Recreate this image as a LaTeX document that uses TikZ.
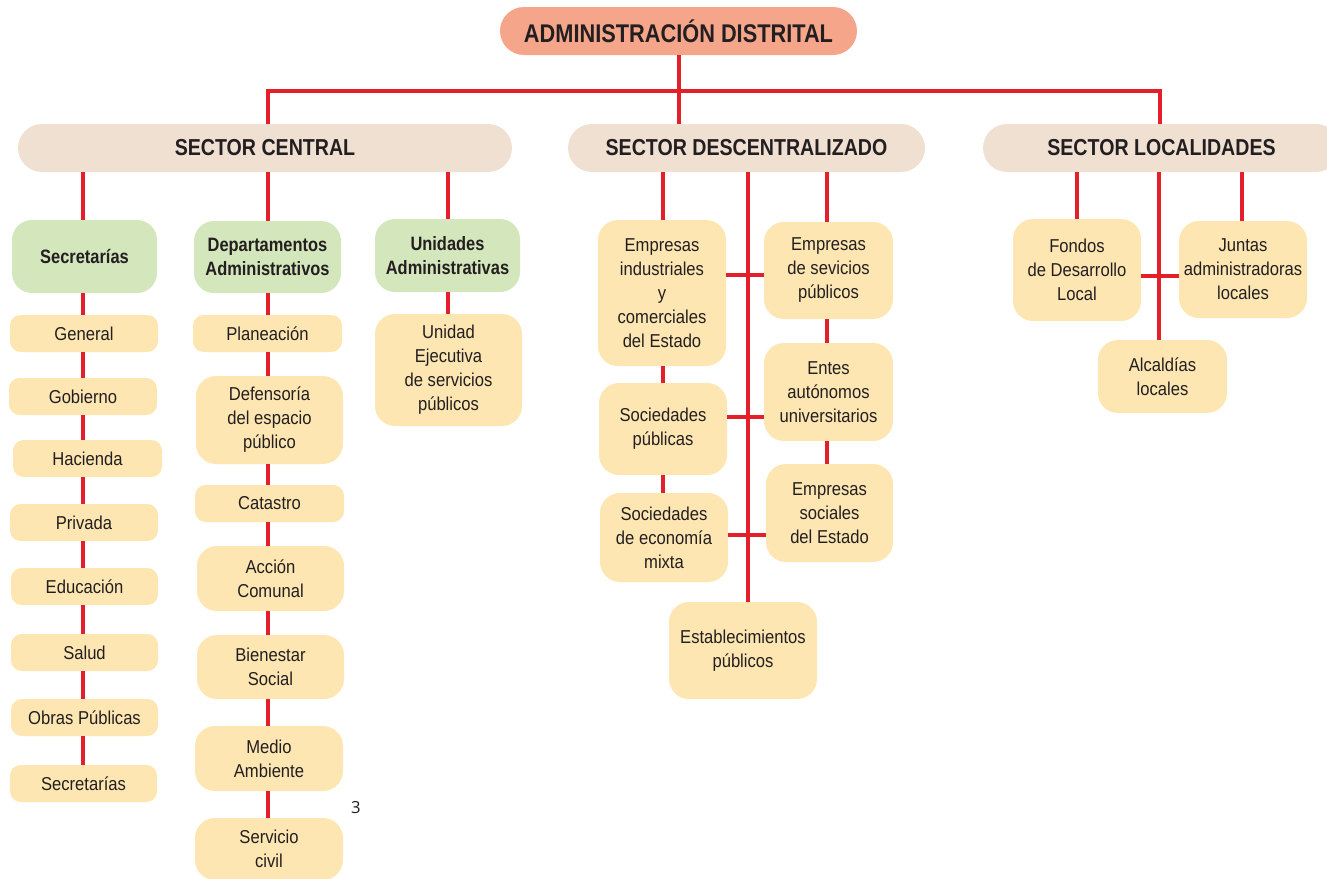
\documentclass[tikz,border=0pt]{standalone}
\usepackage{fontspec}
\setmainfont[FakeStretch=0.89]{Liberation Sans}
\newfontfamily\hdfont[FakeStretch=0.85]{Liberation Sans}
\newfontfamily\notefont{Open Sans}
\definecolor{ink}{HTML}{231F20}
\definecolor{linered}{HTML}{E3202A}
\definecolor{salmon}{HTML}{F5A58A}
\definecolor{beige}{HTML}{EFE0D2}
\definecolor{paleg}{HTML}{D4E6BB}
\definecolor{paley}{HTML}{FDE6B2}
\tikzset{
  base/.style={draw=none, inner sep=0pt, align=center, text=ink},
  titlebox/.style={base, fill=salmon, rounded corners=18pt, font=\fontsize{19.2}{22}\selectfont\hdfont\bfseries},
  sectorbox/.style={base, fill=beige, rounded corners=18pt, font=\fontsize{17.3}{20}\selectfont\hdfont\bfseries},
  groupbox/.style={base, fill=paleg, rounded corners=15pt, font=\fontsize{14.5}{18.5}\selectfont\hdfont\bfseries},
  smallbox/.style={base, fill=paley, rounded corners=8pt, font=\fontsize{14}{18}\selectfont},
  bigbox/.style={base, fill=paley, rounded corners=15pt, font=\fontsize{14}{18}\selectfont},
  link/.style={draw=linered, line width=2.3pt}
}
\newcommand\bx[7]{\node[#6, minimum width={(#4-#2)*0.75pt}, minimum height={(#5-#3)*0.75pt}] (#1) at ({(#2+#4)/2},{(#3+#5)/2}) {#7};}
\begin{document}
\begin{tikzpicture}[x=0.75pt,y=-0.75pt]
\useasboundingbox (0,0) rectangle (1327,878);
% title and sectors
\bx{adm}{500}{7}{857}{55}{titlebox}{ADMINISTRACIÓN DISTRITAL}
\bx{sc}{18}{124}{512}{172}{sectorbox}{SECTOR CENTRAL}
\bx{sd}{568}{124}{925}{172}{sectorbox}{SECTOR DESCENTRALIZADO}
\bx{sl}{983}{124}{1340}{172}{sectorbox}{SECTOR LOCALIDADES}
% sector central groups
\bx{gsec}{12}{220}{157}{293}{groupbox}{Secretarías}
\bx{gdep}{194}{221}{341}{293}{groupbox}{Departamentos\\Administrativos}
\bx{guni}{375}{219}{520}{292}{groupbox}{Unidades\\Administrativas}
% secretarias column
\bx{gen}{10}{315}{158}{352}{smallbox}{General}
\bx{gob}{9}{378}{157}{415}{smallbox}{Gobierno}
\bx{hac}{13}{440}{162}{477}{smallbox}{Hacienda}
\bx{pri}{10}{504}{158}{541}{smallbox}{Privada}
\bx{edu}{11}{568}{158}{605}{smallbox}{Educación}
\bx{sal}{11}{634}{158}{671}{smallbox}{Salud}
\bx{obr}{11}{699}{158}{736}{smallbox}{Obras Públicas}
\bx{sec}{10}{765}{157}{802}{smallbox}{Secretarías}
% departamentos column
\bx{pla}{193}{315}{342}{352}{smallbox}{Planeación}
\bx{def}{196}{376}{343}{464}{bigbox}{Defensoría\\del espacio\\público}
\bx{cat}{195}{485}{344}{522}{smallbox}{Catastro}
\bx{acc}{197}{546}{344}{611}{bigbox}{Acción\\Comunal}
\bx{bie}{197}{635}{344}{699}{bigbox}{Bienestar\\Social}
\bx{med}{195}{726}{343}{791}{bigbox}{Medio\\Ambiente}
\bx{ser}{195}{818}{343}{880}{bigbox}{Servicio\\civil}
% unidades
\bx{uej}{375}{314}{522}{426}{bigbox}{Unidad\\Ejecutiva\\de servicios\\públicos}
% descentralizado
\bx{ei}{598}{220}{726}{366}{bigbox}{Empresas\\industriales\\y\\comerciales\\del Estado}
\bx{es}{764}{222}{893}{319}{bigbox}{Empresas\\de sevicios\\públicos}
\bx{en}{764}{343}{893}{441}{bigbox}{Entes\\autónomos\\universitarios}
\bx{sp}{599}{383}{727}{475}{bigbox}{Sociedades\\públicas}
\bx{ss}{766}{464}{893}{562}{bigbox}{Empresas\\sociales\\del Estado}
\bx{sm}{600}{493}{728}{582}{bigbox}{Sociedades\\de economía\\mixta}
\bx{est}{669}{602}{817}{699}{bigbox}{Establecimientos\\públicos}
% localidades
\bx{fo}{1013}{219}{1141}{321}{bigbox}{Fondos\\de Desarrollo\\Local}
\bx{ju}{1179}{221}{1307}{318}{bigbox}{Juntas\\administradoras\\locales}
\bx{al}{1098}{340}{1227}{413}{bigbox}{Alcaldías\\locales}
% page number
\node[text=ink, font=\notefont\fontsize{12.5}{14}\selectfont] (pg) at (356,808) {3};
% reference coordinates
\coordinate (hub) at (679,91);
\coordinate (xa) at (268,91);
\coordinate (xb) at (1160,91);
\coordinate (c1) at (83,0);
\coordinate (c2) at (268,0);
\coordinate (c3) at (448,0);
\coordinate (d1) at (663,0);
\coordinate (d2) at (748,0);
\coordinate (d3) at (827,0);
\coordinate (l1) at (1077,0);
\coordinate (l2) at (1159,0);
\coordinate (l3) at (1242,0);
\coordinate (h1) at (0,275);
\coordinate (h2) at (0,417);
\coordinate (h3) at (0,535);
\coordinate (h4) at (0,276);
% top connectors
\draw[link] (hub |- adm.south) -- (hub);
\draw[link] (xa |- sc.north) -- (xa) -- (xb) -- (xb |- sl.north);
\draw[link] (hub) -- (hub |- sd.north);
% sector central
\draw[link] (c1 |- sc.south) -- (c1 |- gsec.north);
\draw[link] (c2 |- sc.south) -- (c2 |- gdep.north);
\draw[link] (c3 |- sc.south) -- (c3 |- guni.north);
\foreach \a/\b in {gsec/gen, gen/gob, gob/hac, hac/pri, pri/edu, edu/sal, sal/obr, obr/sec}
  \draw[link] (c1 |- \a.south) -- (c1 |- \b.north);
\foreach \a/\b in {gdep/pla, pla/def, def/cat, cat/acc, acc/bie, bie/med, med/ser}
  \draw[link] (c2 |- \a.south) -- (c2 |- \b.north);
\draw[link] (c3 |- guni.south) -- (c3 |- uej.north);
% descentralizado
\draw[link] (d1 |- sd.south) -- (d1 |- ei.north);
\draw[link] (d1 |- ei.south) -- (d1 |- sp.north);
\draw[link] (d1 |- sp.south) -- (d1 |- sm.north);
\draw[link] (d2 |- sd.south) -- (d2 |- est.north);
\draw[link] (d3 |- sd.south) -- (d3 |- es.north);
\draw[link] (d3 |- es.south) -- (d3 |- en.north);
\draw[link] (d3 |- en.south) -- (d3 |- ss.north);
\draw[link] (ei.east |- h1) -- (es.west |- h1);
\draw[link] (sp.east |- h2) -- (en.west |- h2);
\draw[link] (sm.east |- h3) -- (ss.west |- h3);
% localidades
\draw[link] (l1 |- sl.south) -- (l1 |- fo.north);
\draw[link] (l2 |- sl.south) -- (l2 |- al.north);
\draw[link] (l3 |- sl.south) -- (l3 |- ju.north);
\draw[link] (fo.east |- h4) -- (ju.west |- h4);
\end{tikzpicture}
\end{document}
